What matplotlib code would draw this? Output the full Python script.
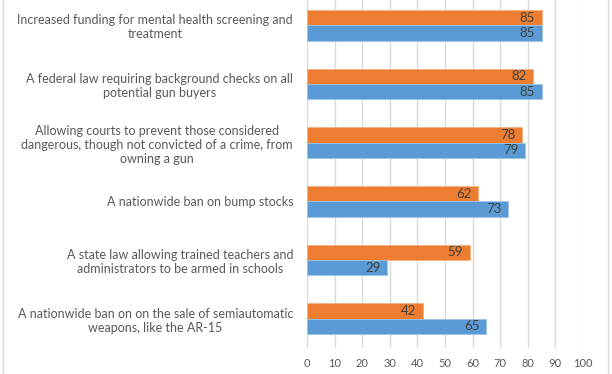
import numpy as np
import matplotlib
matplotlib.use('Agg')
import matplotlib.pyplot as plt
from matplotlib.lines import Line2D

plt.rcParams['font.family'] = ['Lato', 'DejaVu Sans']

categories = [
    "Increased funding for mental health screening and\ntreatment",
    "A federal law requiring background checks on all\npotential gun buyers",
    "Allowing courts to prevent those considered\ndangerous, though not convicted of a crime, from\nowning a gun",
    "A nationwide ban on bump stocks",
    "A state law allowing trained teachers and\nadministrators to be armed in schools",
    "A nationwide ban on on the sale of semiautomatic\nweapons, like the AR-15",
]
orange_vals = [85, 82, 78, 62, 59, 42]
blue_vals = [85, 85, 79, 73, 29, 65]
xticks = [0, 10, 20, 30, 40, 50, 60, 70, 80, 90, 100]

orange = '#ED7D31'
blue = '#5B9BD5'
grey_txt = '#595959'

fig = plt.figure(figsize=(6.12, 3.74), dpi=100)
ax = fig.add_axes([307 / 612, 1 - 348 / 374, 276 / 612, 352 / 374])

y = np.arange(len(categories))
h = 0.26
ax.barh(y - h / 2, orange_vals, height=h, color=orange, edgecolor='#F4B183', linewidth=0.6, zorder=3)
ax.barh(y + h / 2, blue_vals, height=h, color=blue, edgecolor='#9DC3E6', linewidth=0.6, zorder=3)

for i in range(len(categories)):
    ax.text(orange_vals[i] - 2.4, y[i] - h / 2, str(orange_vals[i]), ha='right', va='center',
            fontsize=9.5, color='#404040', zorder=4)
    ax.text(blue_vals[i] - 2.4, y[i] + h / 2, str(blue_vals[i]), ha='right', va='center',
            fontsize=9.5, color='#404040', zorder=4)

ax.set_xlim(0, 100)
ax.set_ylim(len(categories) - 0.5, -0.5)
ax.set_xticks(xticks)
ax.set_xticklabels([str(t) for t in xticks], fontsize=8, color=grey_txt)
ax.set_yticks(y)
ax.set_yticklabels(categories, fontsize=9, color=grey_txt, multialignment='center',
                   linespacing=1.2)
ax.tick_params(axis='y', length=0, pad=10)
ax.tick_params(axis='x', length=0, pad=7)
ax.grid(axis='x', color='#D9D9D9', linewidth=1, zorder=0)
for s in ax.spines.values():
    s.set_visible(False)

# chart border lines (cropped Excel frame)
fig.add_artist(Line2D([2.5 / 612, 2.5 / 612], [0, 1], color='#D9D9D9', linewidth=1))
fig.add_artist(Line2D([608 / 612, 608 / 612], [0, 1], color='#D9D9D9', linewidth=1))

fig.savefig('out.png', dpi=100)
